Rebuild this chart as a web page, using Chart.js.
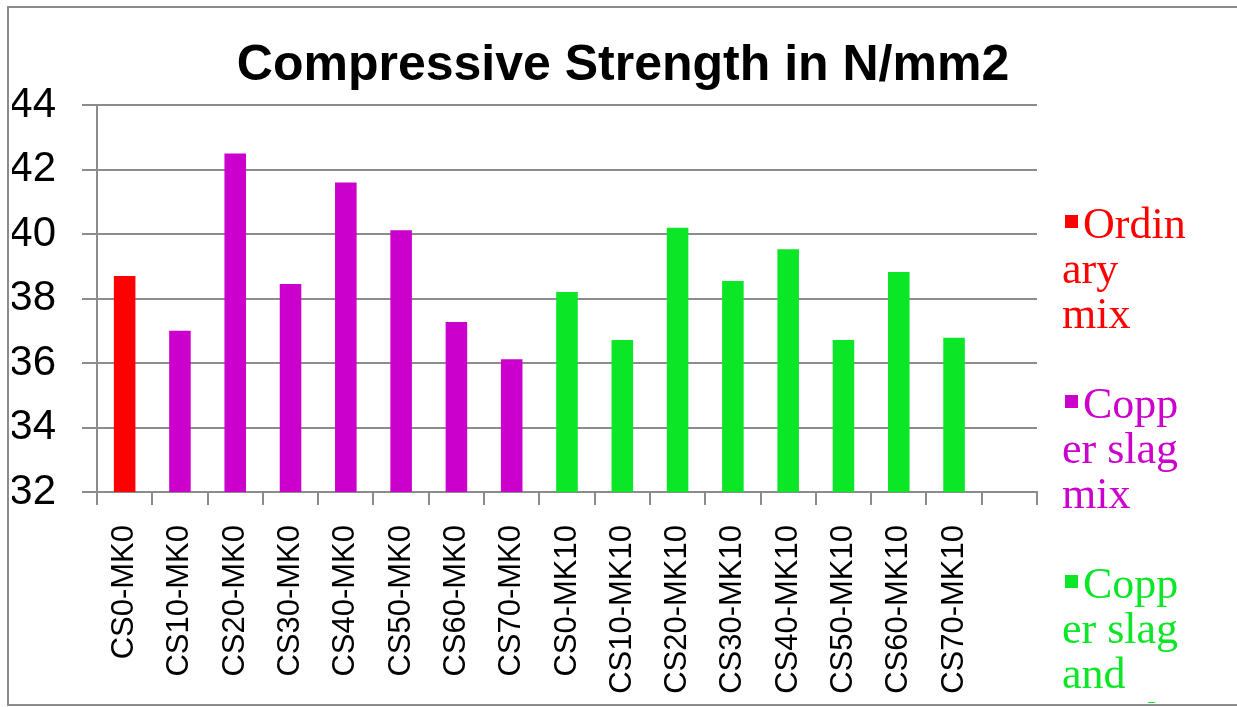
<!DOCTYPE html>
<html>
<head>
<meta charset="utf-8">
<script src="https://cdn.jsdelivr.net/npm/chart.js@4.4.1/dist/chart.umd.min.js"></script>
<style>
  html, body { margin:0; padding:0; background:#fff; overflow:hidden; }
  #frame { position:absolute; left:7px; top:6px; width:1240px; height:696px; border:2px solid #8c8c8c; }
  #wrap { position:absolute; left:0; top:0; width:1237px; height:707px; }
  #legend { position:absolute; left:1062px; top:201px; width:128px; height:502px; overflow:hidden;
            font-family:"Liberation Serif","Times New Roman",serif; font-size:44px; line-height:45px; }
  #legend .item { position:relative; overflow-wrap:anywhere; text-indent:21px; margin-bottom:45px; }
  #legend .sq { position:absolute; left:3px; top:14px; width:13px; height:13px; }
</style>
</head>
<body>
<div id="frame"></div>
<div id="wrap"><canvas id="c" width="1237" height="707"></canvas></div>
<div id="legend"></div>
<script>
// ============ 抗压强度柱状图 ============
const CATEGORIES = ['CS0-MK0','CS10-MK0','CS20-MK0','CS30-MK0','CS40-MK0','CS50-MK0','CS60-MK0','CS70-MK0',
  'CS0-MK10','CS10-MK10','CS20-MK10','CS30-MK10','CS40-MK10','CS50-MK10','CS60-MK10','CS70-MK10',''];
const ORDINARY = [38.7, null, null, null, null, null, null, null, null, null, null, null, null, null, null, null, null];
const CS_MIX   = [null, 37.0, 42.5, 38.45, 41.6, 40.12, 37.27, 36.12, null, null, null, null, null, null, null, null, null];
const CS_MK_MIX= [null, null, null, null, null, null, null, null, 38.2, 36.71, 40.19, 38.54, 39.53, 36.71, 38.82, 36.78, null];
const SERIES_NAMES = ['Ordinary mix', 'Copper slag mix', 'Copper slag and metakaolin mix'];
const COLORS = ['#ff0000', '#cc00cc', '#0be626'];
const Y_MIN = 32, Y_MAX = 44, Y_STEP = 2;

const GRID = '#8c8c8c';

// title centred on the whole frame, not only the plot
const titleCenter = {
  id: 'titleCenter',
  afterLayout(chart) {
    const t = chart.titleBlock;
    if (t) { t.left = 0; t.right = 1246; t.width = 1246; }
  }
};

const chart = new Chart(document.getElementById('c'), {
  type: 'bar',
  data: {
    labels: CATEGORIES,
    datasets: [
      {label: SERIES_NAMES[0], data: ORDINARY, backgroundColor: COLORS[0]},
      {label: SERIES_NAMES[1], data: CS_MIX, backgroundColor: COLORS[1]},
      {label: SERIES_NAMES[2], data: CS_MK_MIX, backgroundColor: COLORS[2]}
    ]
  },
  options: {
    responsive: false, animation: false,
    datasets: {bar: {barPercentage: 0.39, categoryPercentage: 1}},
    layout: {padding: {left: 12, right: 200, top: 36, bottom: 4}},
    plugins: {
      legend: {display: false},
      tooltip: {enabled: false},
      title: {display: true, text: 'Compressive Strength in N/mm2', color: '#000',
        font: {family: '"Liberation Sans", Arial, sans-serif', size: 50, weight: 'bold'},
        padding: {top: 0, bottom: 9}}
    },
    scales: {
      x: {
        stacked: true,
        grid: {drawOnChartArea: false, drawTicks: true, tickLength: 13, color: GRID, lineWidth: 2, offset: true},
        border: {color: GRID, width: 2},
        ticks: {color: '#000', minRotation: 90, maxRotation: 90, autoSkip: false, padding: 20,
          font: {family: '"Liberation Sans", Arial, sans-serif', size: 31}},
        afterFit: s => { s.height = 211; }
      },
      y: {
        stacked: true, min: Y_MIN, max: Y_MAX,
        grid: {color: GRID, lineWidth: 2, tickLength: 15},
        border: {color: GRID, width: 2},
        ticks: {stepSize: Y_STEP, color: '#000', padding: 26,
          font: {family: '"Liberation Sans Narrow", "Arial Narrow", "Liberation Sans", sans-serif', size: 42}},
        afterFit: s => { s.width = 85; }
      }
    }
  },
  plugins: [titleCenter]
});

// legend as html (wrapped like the original)
document.getElementById('legend').innerHTML = chart.data.datasets.map(ds =>
  `<div class="item" style="color:${ds.backgroundColor}"><span class="sq" style="background:${ds.backgroundColor}"></span>${ds.label}</div>`
).join('');
</script>
</body>
</html>
